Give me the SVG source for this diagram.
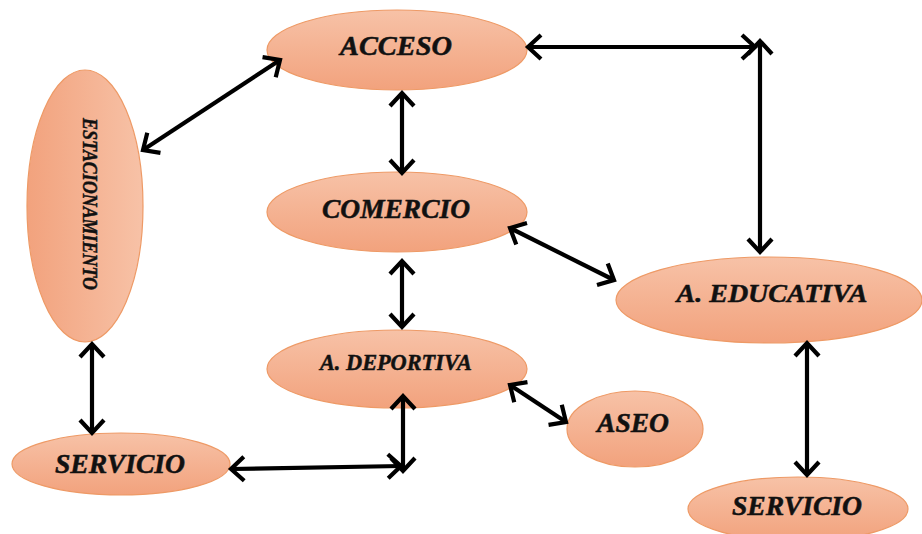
<svg xmlns="http://www.w3.org/2000/svg" width="922" height="534" viewBox="0 0 922 534">
<style>
.n{stroke:#EE9A66;stroke-width:1.2}
.t{font-family:"Liberation Serif","Times New Roman",serif;font-weight:bold;font-style:italic;fill:#111;stroke:#111;stroke-width:0.5;text-anchor:middle}
.c line{stroke:#000;stroke-width:4.2;marker-start:url(#h);marker-end:url(#h)}
</style>
<defs>
<linearGradient id="gv" x1="0" y1="0" x2="0" y2="1"><stop offset="0" stop-color="#F7C2A7"/><stop offset="1" stop-color="#F2A27D"/></linearGradient>
<linearGradient id="gh" x1="0" y1="0" x2="1" y2="0"><stop offset="0" stop-color="#F2A27D"/><stop offset="1" stop-color="#F7C2A7"/></linearGradient>
<marker id="h" markerUnits="userSpaceOnUse" viewBox="-16 -14 20 28" markerWidth="20" markerHeight="28" refX="0" refY="0" orient="auto-start-reverse" overflow="visible">
<path d="M-13,-12 L0,0 L-13,12" fill="none" stroke="#000" stroke-width="4.2" stroke-linejoin="miter"/>
</marker>
</defs>
<g id="acceso"><ellipse class="n" cx="397" cy="50" rx="130" ry="40" fill="url(#gv)"/><text class="t" x="396" y="55" font-size="27" textLength="112" lengthAdjust="spacingAndGlyphs">ACCESO</text></g>
<g id="comercio"><ellipse class="n" cx="397" cy="212" rx="130" ry="40" fill="url(#gv)"/><text class="t" x="396" y="218" font-size="27" textLength="148" lengthAdjust="spacingAndGlyphs">COMERCIO</text></g>
<g id="deportiva"><ellipse class="n" cx="397" cy="369" rx="130" ry="39" fill="url(#gv)"/><text class="t" x="396" y="370" font-size="23" textLength="152" lengthAdjust="spacingAndGlyphs">A. DEPORTIVA</text></g>
<g id="estacionamiento"><ellipse class="n" cx="85" cy="206" rx="58" ry="136" fill="url(#gh)"/><text class="t" transform="translate(83,204) rotate(90)" x="0" y="0" font-size="22" textLength="172" lengthAdjust="spacingAndGlyphs">ESTACIONAMIENTO</text></g>
<g id="servicio1"><ellipse class="n" cx="121" cy="464" rx="109" ry="31" fill="url(#gv)"/><text class="t" x="120" y="473" font-size="27" textLength="130" lengthAdjust="spacingAndGlyphs">SERVICIO</text></g>
<g id="aseo"><ellipse class="n" cx="635" cy="429" rx="68" ry="38" fill="url(#gv)"/><text class="t" x="633" y="432" font-size="27" textLength="72" lengthAdjust="spacingAndGlyphs">ASEO</text></g>
<g id="educativa"><ellipse class="n" cx="769" cy="300" rx="153" ry="43" fill="url(#gv)"/><text class="t" x="772" y="302" font-size="26" textLength="191" lengthAdjust="spacingAndGlyphs">A. EDUCATIVA</text></g>
<g id="servicio2"><ellipse class="n" cx="798" cy="509" rx="110" ry="32" fill="url(#gv)"/><text class="t" x="797" y="515" font-size="27" textLength="130" lengthAdjust="spacingAndGlyphs">SERVICIO</text></g>
<g id="connectors" class="c">
<line x1="143" y1="150" x2="280" y2="60"/>
<line x1="402" y1="93" x2="402" y2="173"/>
<line x1="528" y1="47" x2="755" y2="47"/>
<line x1="760" y1="41" x2="760" y2="252"/>
<line x1="510" y1="228" x2="614" y2="280"/>
<line x1="402" y1="261" x2="402" y2="327"/>
<line x1="92" y1="344" x2="92" y2="433"/>
<line x1="403" y1="396" x2="403" y2="471"/>
<line x1="231" y1="469" x2="401" y2="466"/>
<line x1="510" y1="385" x2="566" y2="422"/>
<line x1="807" y1="343" x2="807" y2="475"/>
</g>
</svg>
